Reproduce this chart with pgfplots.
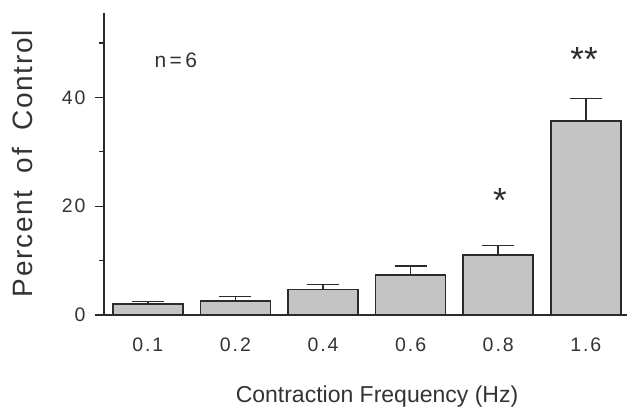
\documentclass[border=0pt]{standalone}
\usepackage{fontspec}
\setmainfont{Liberation Sans}
\usepackage{pgfplots}
\pgfplotsset{compat=1.18}
\usetikzlibrary{calc}
\definecolor{ink}{HTML}{2B2B2B}
\definecolor{txt}{HTML}{333333}
\definecolor{barfill}{HTML}{C4C4C4}
\begin{document}
\begin{tikzpicture}
\begin{axis}[
  scale only axis, width=523bp, height=302bp,
  xmin=-0.5, xmax=5.47, ymin=0, ymax=55.5,
  axis lines*=left, axis line style={ink, line width=1.5bp},
  clip=false,
  xtick={0,1,2,3,4,5}, xticklabels={0.1,0.2,0.4,0.6,0.8,1.6},
  xtick style={draw=none},
  ytick={0,20,40}, minor ytick={10,30,50},
  tick align=outside,
  major tick length=9bp, minor tick length=5bp,
  ytick style={ink, line width=1.3bp},
  tick label style={font=\fontsize{19.5bp}{22bp}\selectfont\addfontfeature{LetterSpace=10}, text=txt},
  xticklabel style={yshift=-10bp},
  yticklabel style={xshift=-6bp},
  /pgf/number format/assume math mode=true,
]
\addplot+[ybar, bar width=0.8, fill=barfill, draw=ink, line width=1.6bp,
  mark=none,
  error bars/.cd, y dir=plus, y explicit,
  error bar style={ink, line width=1.5bp},
  error mark options={rotate=90, mark size=16bp, ink, line width=1.5bp}]
coordinates {
  (0,2.0) +- (0,0.45)
  (1,2.6) +- (0,0.8)
  (2,4.7) +- (0,0.9)
  (3,7.3) +- (0,1.7)
  (4,11.0) +- (0,1.8)
  (5,35.6) +- (0,4.2)
};
\node[font=\fontsize{35bp}{35bp}\selectfont, text=ink] at (axis cs:4.02,21.1) {*};
\node[font=\fontsize{35bp}{35bp}\selectfont, text=ink] at (axis cs:4.98,47.0) {**};
\node[font=\fontsize{21bp}{24bp}\selectfont, text=txt] at (axis cs:0.32,46.8) {n\,=\,6};
\node[rotate=90, font=\fontsize{28bp}{30bp}\selectfont\addfontfeature{LetterSpace=6}, text=txt]
  at (rel axis cs:-0.155,0.501)
  {Percent\hspace{0.62em}of\hspace{0.62em}Control};
\node[font=\fontsize{23bp}{26bp}\selectfont, text=txt] at (rel axis cs:0.522,-0.27)
  {Contraction Frequency (Hz)};
\coordinate (sw) at (rel axis cs:0,0);
\coordinate (ne) at (rel axis cs:1,1);
\end{axis}
\pgfresetboundingbox
\path[use as bounding box] ($(sw)+(-104bp,-95bp)$) rectangle ($(ne)+(0bp,13bp)$);
\end{tikzpicture}
\end{document}
